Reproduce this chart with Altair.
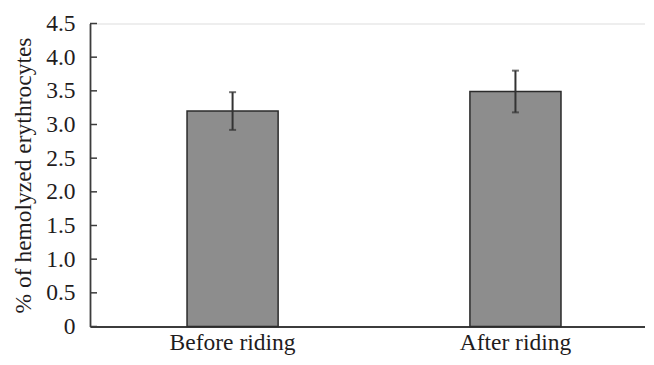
import altair as alt
import pandas as pd

categories = ["Before riding", "After riding"]
means = [3.2, 3.49]
errors = [0.28, 0.31]
tick_values = [0, 0.5, 1.0, 1.5, 2.0, 2.5, 3.0, 3.5, 4.0, 4.5]

df = pd.DataFrame({
    "cat": categories,
    "mean": means,
    "lo": [m - e for m, e in zip(means, errors)],
    "hi": [m + e for m, e in zip(means, errors)],
})
ticks_df = pd.DataFrame({"t": tick_values})

FONT = "Liberation Serif"
TXT = "#1f1c1d"
AX = "#3c3c3c"
YTITLE = "% of hemolyzed erythrocytes"

xscale = alt.Scale(paddingInner=0.678, paddingOuter=0.32, align=0.536)
yscale = alt.Scale(domain=[0, 4.5], nice=False)

xaxis = alt.Axis(labelAngle=0, ticks=False, labelPadding=4)
yaxis = alt.Axis(values=tick_values, grid=False, ticks=False,
                 labelOverlap=False,
                 labelExpr="datum.value == 0 ? '0' : format(datum.value, '.1f')",
                 labelPadding=15, titlePadding=10)

def X():
    return alt.X("cat:N", sort=categories, scale=xscale, title=None, axis=xaxis)

def Y(field):
    return alt.Y(field, scale=yscale, title=YTITLE, axis=yaxis)

base = alt.Chart(df)

bars = base.mark_bar(color="#8d8d8d", stroke="#2b2b2b", strokeWidth=1.5).encode(
    x=X(), y=Y("mean:Q"))

err = base.mark_rule(color="#333333", strokeWidth=2).encode(
    x=X(), y=Y("lo:Q"), y2="hi:Q")
cap_hi = base.mark_tick(color="#333333", size=7, thickness=2).encode(
    x=X(), y=Y("hi:Q"))
cap_lo = base.mark_tick(color="#333333", size=7, thickness=2).encode(
    x=X(), y=Y("lo:Q"))
yticks = alt.Chart(ticks_df).mark_rule(color=AX, strokeWidth=1.5).encode(
    x=alt.value(0), x2=alt.value(7), y=Y("t:Q"))

chart = alt.layer(bars, err, cap_hi, cap_lo, yticks).properties(
    width=555, height=303,
    autosize=alt.AutoSizeParams(type="pad"),
    padding={"left": 3, "top": 3.5, "right": 0, "bottom": 0},
).configure_view(stroke=None).configure(background="white").configure_axis(
    labelFont=FONT, labelFontSize=23.5, labelColor=TXT,
    titleFont=FONT, titleFontSize=23.5, titleFontWeight="normal", titleColor=TXT,
    domainColor=AX, domainWidth=1.8,
)

chart.save("out.html", embed_options={"renderer": "svg", "actions": False})
